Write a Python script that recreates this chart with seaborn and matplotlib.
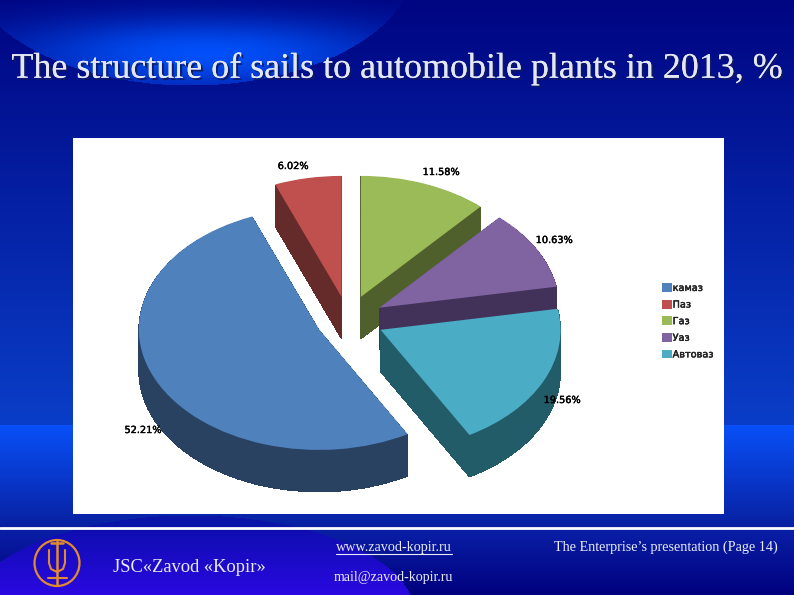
import numpy as np
import matplotlib
matplotlib.use("Agg")
import matplotlib.pyplot as plt
import matplotlib.patheffects as pe
from matplotlib.patches import Ellipse
import seaborn as sns

plants = ["камаз", "Паз", "Газ", "Уаз", "Автоваз"]
shares = [52.21, 6.02, 11.58, 10.63, 19.56]
share_labels = ["52.21%", "6.02%", "11.58%", "10.63%", "19.56%"]
top_colors = ["#4f81bd", "#c0504d", "#9bbb59", "#8064a2", "#4bacc6"]
side_colors = ["#2a4262", "#652b2a", "#50602c", "#42325a", "#225c69"]
draw_rank = [4, 0, 1, 2, 3]  # back wedges first
explode = [0.18, 0.19, 0.2, 0.2, 0.2]

W, H = 794, 595
sns.set_theme(style="white")
plt.rcParams["font.family"] = ["DejaVu Sans"]
SERIF = "Liberation Serif"


def background():
    y, x = np.mgrid[0:H, 0:W].astype(float)
    # main vertical fade, navy to blue
    t = y / 425
    r = 10 * t
    g = 5 + 57 * t
    b = 130 + 70 * t
    # lighter band behind the bottom of the panel
    band = (y >= 425) & (y < 527)
    s = (y[band] - 425) / 102
    r[band] = 8
    g[band] = 80 * (1 - s) + 32 * s
    b[band] = 248 * (1 - s) + 160 * s
    # footer fades back to navy
    foot = y >= 527
    f = (y[foot] - 527) / 68
    r[foot] = 10 * (1 - f)
    g[foot] = 32 * (1 - f)
    b[foot] = 168 * (1 - f) + 125 * f
    # dome around the logo
    dome = ((x - 190) / 225) ** 2 + ((y - 615) / 100) ** 2 < 1
    above = dome & (y < 527)
    r[above], g[above], b[above] = 10, 20, 168
    below = dome & foot
    f = (y[below] - 527) / 68
    r[below] = 14 + 28 * f
    g[below] = 14 - 6 * f
    b[below] = 175 + 50 * f
    # glow top left
    inside = ((x - 190) / 225) ** 2 + ((y + 40) / 125) ** 2 < 1
    glow = np.exp(-((x - 205) / 190) ** 2 - ((y - 52) / 36) ** 2)
    g = np.where(inside, g + 68 * glow, g)
    b = np.where(inside, b + 110 * glow, b)
    return np.clip(np.dstack([r, g, b]) / 255, 0, 1)


fig = plt.figure(figsize=(W / 100, H / 100), dpi=100)
bg = fig.add_axes([0, 0, 1, 1])
bg.imshow(background(), extent=(0, W, H, 0), aspect="auto", zorder=0)
bg.set_xlim(0, W)
bg.set_ylim(H, 0)
bg.axis("off")

# title with soft shadow
title = "The structure of sails to automobile plants in 2013, %"
bg.text(397, 69, title, family=SERIF, fontsize=25.9, color="#e4e8f6", ha="center", va="center",
        path_effects=[pe.withSimplePatchShadow(offset=(1.5, -1.5), shadow_rgbFace="#101a60", alpha=0.9), pe.Normal()])

# footer
text_color = "#e8ebf6"
bg.plot([0, W], [528, 528], color="white", lw=2)
bg.text(113, 568, "JSC«Zavod «Kopir»", family=SERIF, fontsize=13.3, color=text_color, va="center")
bg.text(336, 548, "www.zavod-kopir.ru", family=SERIF, fontsize=10.2, color=text_color, va="center")
bg.plot([336, 452], [554, 554], color=text_color, lw=0.8)
bg.text(334, 578, "mail@zavod-kopir.ru", family=SERIF, fontsize=10.05, color=text_color, va="center")
bg.text(554, 547, "The Enterprise’s presentation (Page 14)", family=SERIF, fontsize=10.2, color=text_color, va="center")

# logo
logo = "#e08a32"
bg.add_patch(Ellipse((57, 563), 45, 46, fill=False, ec=logo, lw=1.6))
bg.plot([57, 57], [541, 585], color=logo, lw=1.8)
bg.plot([51, 63], [543, 543], color=logo, lw=1.8)
bg.plot([48, 67], [578, 578], color=logo, lw=1.5)
bg.plot([49, 49, 51, 57, 63, 65, 65], [550, 563, 569, 572, 569, 563, 550], color=logo, lw=1.5)

# chart panel, one data unit = 180 px wide, 121 px high
left, right, top, bottom = 73, 724, 138, 514
cx, cy, rx, ry = 348, 319.5, 180, 121
ax = fig.add_axes([left / W, 1 - bottom / H, (right - left) / W, (bottom - top) / H])

depth = 42
for d in range(depth, -1, -1):
    colors = top_colors if d == 0 else side_colors
    wedges, _ = ax.pie(shares, colors=colors, explode=explode, startangle=-60.4, counterclock=False,
                       center=(0, -d / ry), radius=1, wedgeprops={"linewidth": 0, "antialiased": d == 0})
    for w, rank in zip(wedges, draw_rank):
        w.set_zorder(rank * 100 + depth - d + 2)

ax.set_aspect("auto")
ax.set_xlim((left - cx) / rx, (right - cx) / rx)
ax.set_ylim((cy - bottom) / ry, (cy - top) / ry)
ax.set_frame_on(True)
ax.set_facecolor("white")
sns.despine(ax=ax, left=True, bottom=True)

# value labels (pixel positions from the slide)
heavy = [pe.withStroke(linewidth=0.3, foreground="black")]
label_xy = [(143, 430), (293, 166), (441, 172), (554, 240), (562, 400)]
for text, (px, py) in zip(share_labels, label_xy):
    ax.text((px - cx) / rx, (cy - py) / ry, text, fontsize=7, color="black", ha="center", va="center",
            zorder=1000, path_effects=heavy)

leg = ax.legend(wedges, plants, loc="upper left",
                bbox_to_anchor=((659 - left) / (right - left), (bottom - 280) / (bottom - top)),
                frameon=False, fontsize=7, handlelength=1.0, handleheight=1.0, handletextpad=0.1,
                labelspacing=0.68, borderpad=0.3, borderaxespad=0)
leg.set_zorder(1000)
for t in leg.get_texts():
    t.set_path_effects(heavy)

fig.savefig("out.png", dpi=100)
